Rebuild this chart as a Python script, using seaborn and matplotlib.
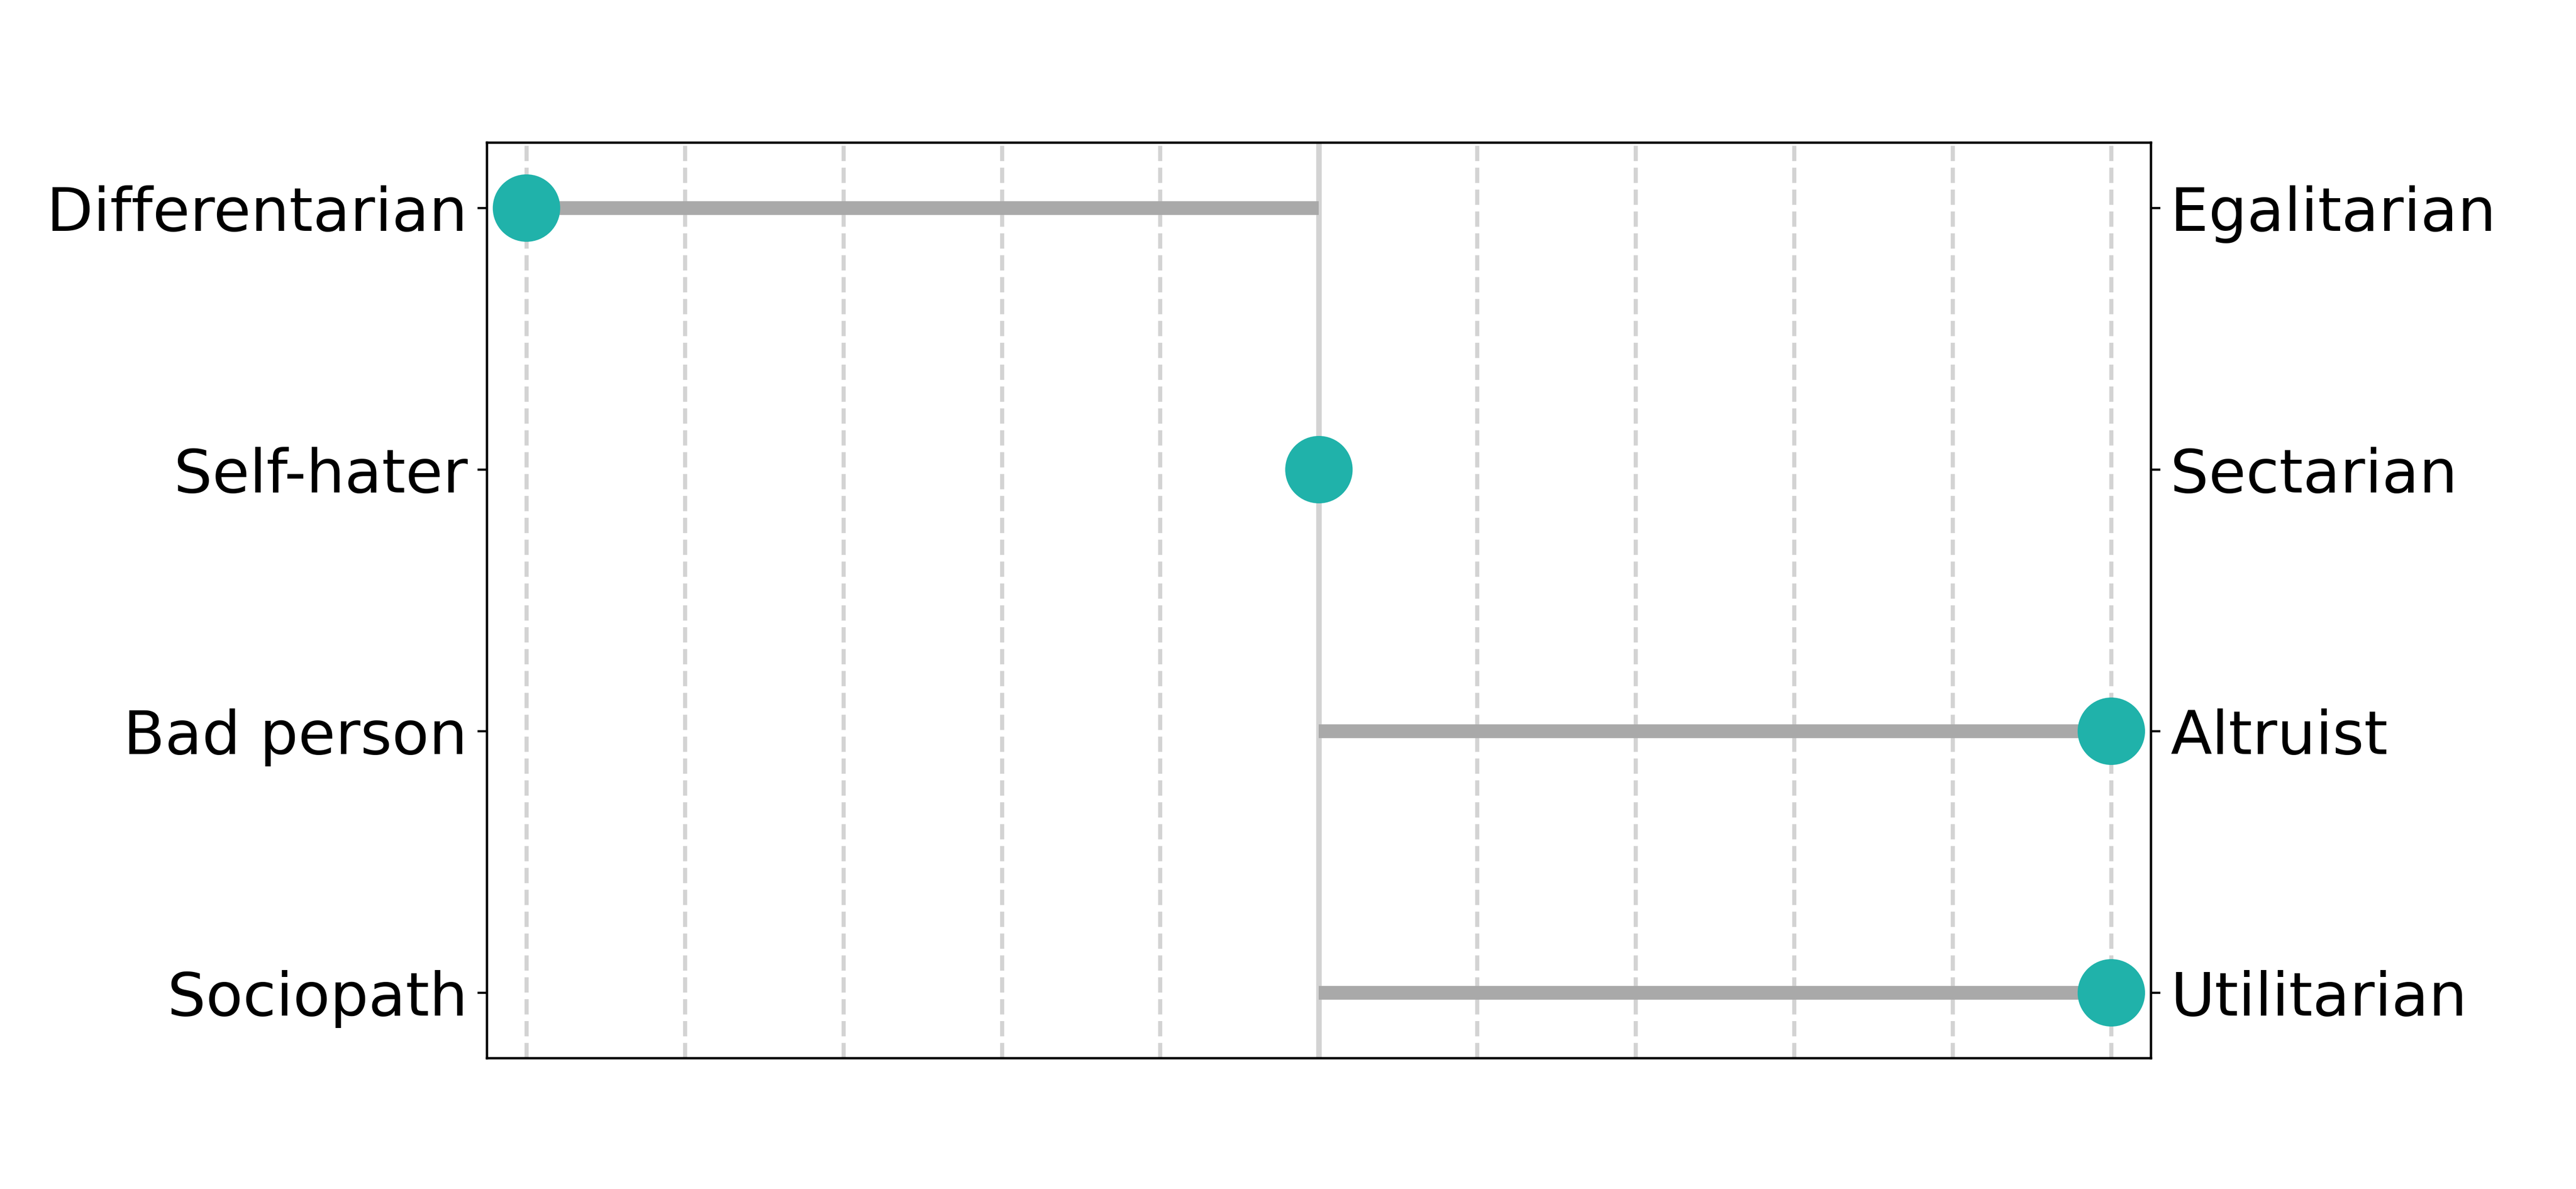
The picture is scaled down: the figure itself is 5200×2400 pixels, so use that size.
import numpy as np
import pandas as pd
import matplotlib
matplotlib.use("Agg")
import matplotlib.pyplot as plt
import seaborn as sns

left_labels = ["Differentarian", "Self-hater", "Bad person", "Sociopath"]
right_labels = ["Egalitarian", "Sectarian", "Altruist", "Utilitarian"]
scores = [-1.0, 0.0, 1.0, 1.0]

df = pd.DataFrame({"left": left_labels, "right": right_labels, "score": scores})
df["pos"] = np.arange(len(df))

sns.set_style("white")
plt.rcParams["font.family"] = ["DejaVu Sans"]
plt.rcParams["text.color"] = "black"
plt.rcParams["ytick.color"] = "black"
plt.rcParams["ytick.labelcolor"] = "black"

fig, ax = plt.subplots(figsize=(13, 6), dpi=400)
fig.subplots_adjust(left=0.189, right=0.835, top=0.88, bottom=0.11)

# grid and centre line
ax.set_xticks(np.arange(-1, 1.01, 0.2))
ax.grid(axis="x", linestyle="--", color="lightgray", linewidth=1.5, zorder=0)
ax.set_axisbelow(True)
ax.axvline(0, color="lightgray", linewidth=2, zorder=1)

# stems from 0 to score
ax.hlines(df["pos"], 0, df["score"], color="darkgray", linewidth=5, zorder=2)

sns.scatterplot(data=df, x="score", y="pos", ax=ax, color="lightseagreen",
                s=600, edgecolor="none", zorder=3, legend=False)

ax.set_xlim(-1.05, 1.05)
ax.set_ylim(len(df) - 0.75, -0.25)
ax.set_xticklabels([])
ax.tick_params(axis="x", length=0)
ax.set_yticks(df["pos"])
ax.set_yticklabels(df["left"], fontsize=22, color="black")
ax.tick_params(axis="y", length=3.5, width=0.8, left=True, color="black")
ax.set_xlabel("")
ax.set_ylabel("")
for sp in ax.spines.values():
    sp.set_color("black")
    sp.set_linewidth(0.8)

ax2 = ax.twinx()
ax2.set_ylim(ax.get_ylim())
ax2.set_yticks(df["pos"])
ax2.set_yticklabels(df["right"], fontsize=22, color="black")
ax2.tick_params(axis="y", length=3.5, width=0.8, right=True, color="black")
for sp in ax2.spines.values():
    sp.set_color("black")
    sp.set_linewidth(0.8)

fig.savefig("out.png", dpi=400)
